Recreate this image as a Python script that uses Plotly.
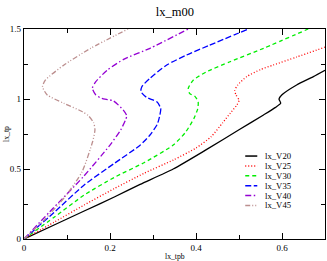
import plotly.graph_objects as go

names = ["lx_V20", "lx_V25", "lx_V30", "lx_V35", "lx_V40", "lx_V45"]

# x = lx_tpb, y = lx_tp
v20_x = [0, 0.07, 0.14, 0.21, 0.27, 0.347, 0.425, 0.50, 0.557, 0.585, 0.597, 0.593, 0.60, 0.634, 0.673, 0.70]
v20_y = [0, 0.10, 0.20, 0.30, 0.39, 0.50, 0.64, 0.78, 0.886, 0.94, 0.97, 1.0, 1.03, 1.10, 1.16, 1.205]

v25_x = [0, 0.07, 0.14, 0.21, 0.279, 0.347, 0.40, 0.435, 0.462, 0.48, 0.495, 0.50, 0.493, 0.49, 0.497, 0.518, 0.55, 0.58, 0.634, 0.70]
v25_y = [0, 0.12, 0.243, 0.36, 0.469, 0.564, 0.65, 0.73, 0.83, 0.90, 0.957, 0.99, 1.03, 1.06, 1.10, 1.16, 1.21, 1.243, 1.30, 1.37]

v30_x = [0, 0.07, 0.14, 0.21, 0.279, 0.347, 0.375, 0.395, 0.404, 0.405, 0.398, 0.385, 0.382, 0.394, 0.425, 0.479, 0.557, 0.661]
v30_y = [0, 0.155, 0.314, 0.44, 0.545, 0.671, 0.76, 0.86, 0.93, 0.98, 1.017, 1.04, 1.076, 1.136, 1.195, 1.266, 1.362, 1.5]

v35_x = [0, 0.07, 0.14, 0.21, 0.27, 0.293, 0.31, 0.316, 0.318, 0.309, 0.285, 0.272, 0.274, 0.293, 0.332, 0.378, 0.429, 0.522]
v35_y = [0, 0.19, 0.386, 0.54, 0.67, 0.743, 0.82, 0.886, 0.933, 0.98, 1.012, 1.052, 1.088, 1.148, 1.243, 1.314, 1.381, 1.5]

v40_x = [0, 0.06, 0.138, 0.20, 0.225, 0.236, 0.239, 0.231, 0.208, 0.181, 0.167, 0.159, 0.167, 0.194, 0.233, 0.293, 0.382]
v40_y = [0, 0.195, 0.445, 0.671, 0.78, 0.85, 0.88, 0.921, 0.986, 1.005, 1.029, 1.076, 1.124, 1.207, 1.285, 1.362, 1.5]

v45_x = [0, 0.047, 0.095, 0.135, 0.16, 0.165, 0.162, 0.15, 0.136, 0.093, 0.054, 0.043, 0.05, 0.093, 0.155, 0.242]
v45_y = [0, 0.136, 0.30, 0.48, 0.70, 0.78, 0.83, 0.88, 0.909, 0.969, 1.029, 1.088, 1.136, 1.243, 1.362, 1.5]

xs = [v20_x, v25_x, v30_x, v35_x, v40_x, v45_x]
ys = [v20_y, v25_y, v30_y, v35_y, v40_y, v45_y]
colors = ["#000000", "#ff0000", "#00ee00", "#0000ff", "#9400d3", "#bc8f8f"]
dashes = ["solid", "1px,2px", "4px,3px", "6px,2.5px", "6px,2.5px,1.5px,2.5px", "5px,2px,1px,2px,1px,2px"]

FONT = "Liberation Serif"

fig = go.Figure()
for n, x, y, c, d in zip(names, xs, ys, colors, dashes):
    fig.add_trace(go.Scatter(x=x, y=y, mode="lines", name=n,
                             line=dict(color=c, dash=d, width=1.3, shape="spline", smoothing=0.6),
                             showlegend=False, hoverinfo="skip"))

# legend drawn as shapes + text
leg_y0 = 0.395
leg_dy = 0.047
for i, (n, c, d) in enumerate(zip(names, colors, dashes)):
    yy = leg_y0 - i * leg_dy
    fig.add_shape(type="line", xref="paper", yref="paper", x0=0.735, x1=0.775, y0=yy, y1=yy,
                  line=dict(color=c, dash=d, width=1.5))
    fig.add_annotation(xref="paper", yref="paper", x=0.793, y=yy, text=n, showarrow=False,
                       xanchor="left", yanchor="middle", font=dict(family=FONT, size=8.7, color="#000"))

# axis titles
fig.add_annotation(xref="paper", yref="paper", x=0.503, y=-0.083, text="lx_tpb", showarrow=False,
                   xanchor="center", yanchor="middle", font=dict(family=FONT, size=7.7, color="#000"))
fig.add_annotation(xref="paper", yref="paper", x=-0.06, y=0.5, text="lx_tp", showarrow=False, textangle=-90,
                   xanchor="center", yanchor="middle", font=dict(family=FONT, size=7.7, color="#000"))

axis_common = dict(showgrid=False, zeroline=False, showline=True, linecolor="#000", linewidth=1.2,
                   mirror="allticks", ticks="inside", ticklen=6, tickwidth=1, tickcolor="#000",
                   automargin=False,
                   tickfont=dict(family=FONT, size=9, color="#000"))

fig.update_xaxes(range=[0, 0.7], dtick=0.2, tick0=0,
                 minor=dict(dtick=0.1, ticks="inside", ticklen=4, tickcolor="#000", showgrid=False),
                 **axis_common)
fig.update_yaxes(range=[0, 1.5], dtick=0.5, tick0=0,
                 minor=dict(dtick=0.25, ticks="inside", ticklen=4, tickcolor="#000", showgrid=False),
                 **axis_common)

fig.update_layout(
    width=327, height=261,
    margin=dict(l=24, r=2, t=29, b=22),
    paper_bgcolor="white", plot_bgcolor="white",
    title=dict(text="lx_m00", x=0.535, xanchor="center", y=0.955, yanchor="middle",
               font=dict(family=FONT, size=12.5, color="#000")),
    showlegend=False,
    hovermode=False,
)

fig.write_html("out.html", config={"displayModeBar": False, "staticPlot": True},
               post_script="document.body.style.margin='0';document.body.style.overflow='hidden';")
